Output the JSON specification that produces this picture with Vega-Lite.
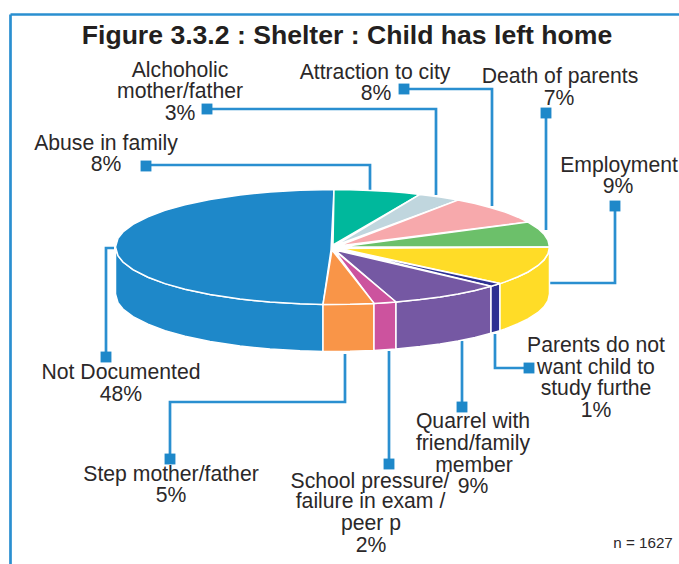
{"$schema":"https://vega.github.io/schema/vega-lite/v6.json","width":679,"height":564,"padding":0,"autosize":{"type":"fit","contains":"padding"},"background":"white","config":{"view":{"stroke":null}},
"datasets":{
"frame":[{"s":"t","x":10.5,"y":14.5},{"s":"t","x":679,"y":14.5},{"s":"l","x":10.5,"y":14.5},{"s":"l","x":10.5,"y":564}],
"leaders":[
{"s":"Alchoholic","x":207,"y":109},{"s":"Alchoholic","x":436,"y":109},{"s":"Alchoholic","x":436,"y":195},
{"s":"Abuse","x":146,"y":165},{"s":"Abuse","x":370,"y":165},{"s":"Abuse","x":370,"y":191},
{"s":"Attraction","x":404,"y":89},{"s":"Attraction","x":492,"y":89},{"s":"Attraction","x":492,"y":206},
{"s":"Death","x":546,"y":113},{"s":"Death","x":546,"y":230},
{"s":"Employment","x":615,"y":206},{"s":"Employment","x":615,"y":283},{"s":"Employment","x":550,"y":283},
{"s":"Not","x":106,"y":357},{"s":"Not","x":106,"y":248},{"s":"Not","x":114,"y":248},
{"s":"Step","x":170,"y":459},{"s":"Step","x":170,"y":402},{"s":"Step","x":345,"y":402},{"s":"Step","x":345,"y":354},
{"s":"School","x":389,"y":464},{"s":"School","x":389,"y":351},
{"s":"Quarrel","x":462,"y":407},{"s":"Quarrel","x":462,"y":341},
{"s":"Parents","x":529,"y":368},{"s":"Parents","x":495,"y":368},{"s":"Parents","x":495,"y":334}],
"markers":[{"x":207,"y":109},{"x":146,"y":166},{"x":404,"y":89},{"x":546,"y":113},{"x":615,"y":206},{"x":106,"y":357},{"x":170,"y":459},{"x":389,"y":464},{"x":462,"y":407},{"x":529,"y":368}],
"side":[
{"s":"Not Documented","x":115.5,"y":247},{"s":"Not Documented","x":118,"y":255.7},{"s":"Not Documented","x":123,"y":262},{"s":"Not Documented","x":133,"y":269.6},{"s":"Not Documented","x":148,"y":277.27},{"s":"Not Documented","x":165,"y":283.6},{"s":"Not Documented","x":185,"y":289.2},{"s":"Not Documented","x":210,"y":294.46},{"s":"Not Documented","x":240,"y":299},{"s":"Not Documented","x":270,"y":302.06},{"s":"Not Documented","x":300,"y":303.85},{"s":"Not Documented","x":323,"y":304.4},{"s":"Not Documented","x":323,"y":351.4},{"s":"Not Documented","x":300,"y":350.85},{"s":"Not Documented","x":270,"y":349.06},{"s":"Not Documented","x":240,"y":346},{"s":"Not Documented","x":210,"y":341.46},{"s":"Not Documented","x":185,"y":336.2},{"s":"Not Documented","x":165,"y":330.6},{"s":"Not Documented","x":148,"y":324.27},{"s":"Not Documented","x":133,"y":316.6},{"s":"Not Documented","x":123,"y":309},{"s":"Not Documented","x":118,"y":302.7},{"s":"Not Documented","x":115.5,"y":294},
{"s":"Step mother/father","x":323,"y":304.4},{"s":"Step mother/father","x":350,"y":304.3},{"s":"Step mother/father","x":374,"y":303.4},{"s":"Step mother/father","x":374,"y":350.4},{"s":"Step mother/father","x":350,"y":351.3},{"s":"Step mother/father","x":323,"y":351.4},
{"s":"School pressure","x":374,"y":303.4},{"s":"School pressure","x":396,"y":302},{"s":"School pressure","x":396,"y":349},{"s":"School pressure","x":374,"y":350.4},
{"s":"Quarrel","x":396,"y":302},{"s":"Quarrel","x":420,"y":299.6},{"s":"Quarrel","x":440,"y":296.95},{"s":"Quarrel","x":458,"y":293.9},{"s":"Quarrel","x":475,"y":290.4},{"s":"Quarrel","x":491,"y":286.3},{"s":"Quarrel","x":491,"y":333.3},{"s":"Quarrel","x":475,"y":337.4},{"s":"Quarrel","x":458,"y":340.9},{"s":"Quarrel","x":440,"y":343.95},{"s":"Quarrel","x":420,"y":346.6},{"s":"Quarrel","x":396,"y":349},
{"s":"Parents","x":491,"y":286.3},{"s":"Parents","x":500,"y":283.6},{"s":"Parents","x":500,"y":330.6},{"s":"Parents","x":491,"y":333.3},
{"s":"Employment","x":500,"y":283.6},{"s":"Employment","x":505,"y":281.9},{"s":"Employment","x":518,"y":276.8},{"s":"Employment","x":528,"y":272},{"s":"Employment","x":538,"y":265.5},{"s":"Employment","x":544,"y":259.9},{"s":"Employment","x":548,"y":253.75},{"s":"Employment","x":549.5,"y":247},{"s":"Employment","x":549.5,"y":294},{"s":"Employment","x":548,"y":300.75},{"s":"Employment","x":544,"y":306.9},{"s":"Employment","x":538,"y":312.5},{"s":"Employment","x":528,"y":319},{"s":"Employment","x":518,"y":323.8},{"s":"Employment","x":505,"y":328.9},{"s":"Employment","x":500,"y":330.6}],
"top":[
{"s":"Not Documented","x":331,"y":250},{"s":"Not Documented","x":323,"y":304.4},{"s":"Not Documented","x":300,"y":303.85},{"s":"Not Documented","x":270,"y":302.06},{"s":"Not Documented","x":240,"y":299},{"s":"Not Documented","x":210,"y":294.46},{"s":"Not Documented","x":185,"y":289.2},{"s":"Not Documented","x":165,"y":283.6},{"s":"Not Documented","x":148,"y":277.27},{"s":"Not Documented","x":133,"y":269.6},{"s":"Not Documented","x":123,"y":262},{"s":"Not Documented","x":118,"y":255.7},{"s":"Not Documented","x":115.5,"y":247},{"s":"Not Documented","x":118,"y":238.3},{"s":"Not Documented","x":123,"y":232},{"s":"Not Documented","x":133,"y":224.4},{"s":"Not Documented","x":148,"y":216.73},{"s":"Not Documented","x":165,"y":210.4},{"s":"Not Documented","x":185,"y":204.8},{"s":"Not Documented","x":210,"y":199.54},{"s":"Not Documented","x":240,"y":195},{"s":"Not Documented","x":270,"y":191.94},{"s":"Not Documented","x":300,"y":190.15},{"s":"Not Documented","x":334,"y":189.5},
{"s":"Abuse","x":333,"y":245},{"s":"Abuse","x":334,"y":189.5},{"s":"Abuse","x":350,"y":189.7},{"s":"Abuse","x":370,"y":190.4},{"s":"Abuse","x":390,"y":191.6},{"s":"Abuse","x":405,"y":192.8},{"s":"Abuse","x":420,"y":194.4},
{"s":"Alchoholic","x":334,"y":246},{"s":"Alchoholic","x":420,"y":194.4},{"s":"Alchoholic","x":440,"y":197.05},{"s":"Alchoholic","x":458,"y":200.1},
{"s":"Attraction","x":338,"y":246},{"s":"Attraction","x":458,"y":200.1},{"s":"Attraction","x":475,"y":203.6},{"s":"Attraction","x":490,"y":207.45},{"s":"Attraction","x":505,"y":212.1},{"s":"Attraction","x":518,"y":217.2},{"s":"Attraction","x":528,"y":222.05},
{"s":"Death","x":340,"y":247},{"s":"Death","x":528,"y":222.05},{"s":"Death","x":538,"y":228.5},{"s":"Death","x":544,"y":234.1},{"s":"Death","x":548,"y":240.25},{"s":"Death","x":549.5,"y":247},
{"s":"Employment","x":340,"y":248.5},{"s":"Employment","x":549.5,"y":247},{"s":"Employment","x":548,"y":253.75},{"s":"Employment","x":544,"y":259.9},{"s":"Employment","x":538,"y":265.5},{"s":"Employment","x":528,"y":272},{"s":"Employment","x":518,"y":276.8},{"s":"Employment","x":505,"y":281.9},{"s":"Employment","x":500,"y":283.6},
{"s":"Parents","x":338,"y":249},{"s":"Parents","x":500,"y":283.6},{"s":"Parents","x":491,"y":286.3},
{"s":"Quarrel","x":335,"y":250},{"s":"Quarrel","x":491,"y":286.3},{"s":"Quarrel","x":475,"y":290.4},{"s":"Quarrel","x":458,"y":293.9},{"s":"Quarrel","x":440,"y":296.95},{"s":"Quarrel","x":420,"y":299.6},{"s":"Quarrel","x":396,"y":302},
{"s":"School pressure","x":334,"y":250},{"s":"School pressure","x":396,"y":302},{"s":"School pressure","x":374,"y":303.4},
{"s":"Step mother/father","x":332,"y":250},{"s":"Step mother/father","x":374,"y":303.4},{"s":"Step mother/father","x":350,"y":304.3},{"s":"Step mother/father","x":323,"y":304.4}],
"labels":[
{"t":"Alchoholic","x":180,"y":77},{"t":"mother/father","x":180,"y":98},{"t":"3%","x":180,"y":120},
{"t":"Abuse in family","x":106,"y":150},{"t":"8%","x":106,"y":171},
{"t":"Attraction to city","x":375,"y":79},{"t":"8%","x":376,"y":100},
{"t":"Death of parents","x":560,"y":83},{"t":"7%","x":559,"y":105},
{"t":"Employment","x":619,"y":172},{"t":"9%","x":618,"y":193},
{"t":"Not Documented","x":121,"y":379},{"t":"48%","x":121,"y":401},
{"t":"Step mother/father","x":171,"y":481},{"t":"5%","x":171,"y":502},
{"t":"School pressure/","x":370,"y":488},{"t":"failure in exam /","x":370.5,"y":508},{"t":"peer p","x":371,"y":530},{"t":"2%","x":371,"y":552},
{"t":"Quarrel with","x":473,"y":428},{"t":"friend/family","x":473,"y":450},{"t":"member","x":474,"y":472},{"t":"9%","x":473,"y":493},
{"t":"Parents do not","x":596,"y":352},{"t":"want child to","x":596,"y":374},{"t":"study furthe","x":596,"y":395},{"t":"1%","x":596,"y":417}]
},
"encoding":{
"x":{"field":"x","type":"quantitative","scale":{"domain":[0,679],"nice":false,"zero":false},"axis":null},
"y":{"field":"y","type":"quantitative","scale":{"domain":[564,0],"nice":false,"zero":false},"axis":null}
},
"layer":[
{"data":{"name":"frame"},"mark":{"type":"line","color":"#2a8fd0","strokeWidth":2.7,"clip":true},"encoding":{"detail":{"field":"s"},"order":{"value":null}}},
{"data":{"name":"leaders"},"mark":{"type":"line","color":"#2a8fd0","strokeWidth":2.7},"encoding":{"detail":{"field":"s"},"order":{"value":null}}},
{"data":{"name":"markers"},"mark":{"type":"point","shape":"square","filled":true,"size":118,"color":"#1e88c9","opacity":1}},
{"data":{"name":"side"},"mark":{"type":"line","filled":true,"interpolate":"linear-closed","stroke":"white","strokeWidth":1.5},"encoding":{"color":{"field":"s","type":"nominal","legend":null,"scale":{"domain":["Not Documented","Abuse","Alchoholic","Attraction","Death","Employment","Parents","Quarrel","School pressure","Step mother/father"],"range":["#1e88c9","#00b89c","#c0d6de","#f7a9ac","#6cc06a","#ffdc27","#2e3192","#7558a3","#cc539e","#f99548"]}},"order":{"value":null}}},
{"data":{"name":"top"},"mark":{"type":"line","filled":true,"interpolate":"linear-closed","stroke":"white","strokeWidth":1.5},"encoding":{"color":{"field":"s","type":"nominal","legend":null,"scale":{"domain":["Not Documented","Abuse","Alchoholic","Attraction","Death","Employment","Parents","Quarrel","School pressure","Step mother/father"],"range":["#1e88c9","#00b89c","#c0d6de","#f7a9ac","#6cc06a","#ffdc27","#2e3192","#7558a3","#cc539e","#f99548"]}},"order":{"value":null}}},
{"data":{"name":"labels"},"mark":{"type":"text","font":"Liberation Sans","fontSize":21.2,"color":"#2b2829","align":"center","baseline":"alphabetic"},"encoding":{"text":{"field":"t"}}},
{"data":{"values":[{"t":"Figure 3.3.2 : Shelter : Child has left home","x":347,"y":44}]},"mark":{"type":"text","font":"Liberation Sans","fontSize":26.6,"fontWeight":"bold","color":"#231f20","align":"center","baseline":"alphabetic"},"encoding":{"text":{"field":"t"}}},
{"data":{"values":[{"t":"n = 1627","x":643,"y":548}]},"mark":{"type":"text","font":"Liberation Sans","fontSize":15.2,"color":"#2b2829","align":"center","baseline":"alphabetic"},"encoding":{"text":{"field":"t"}}}
]}
